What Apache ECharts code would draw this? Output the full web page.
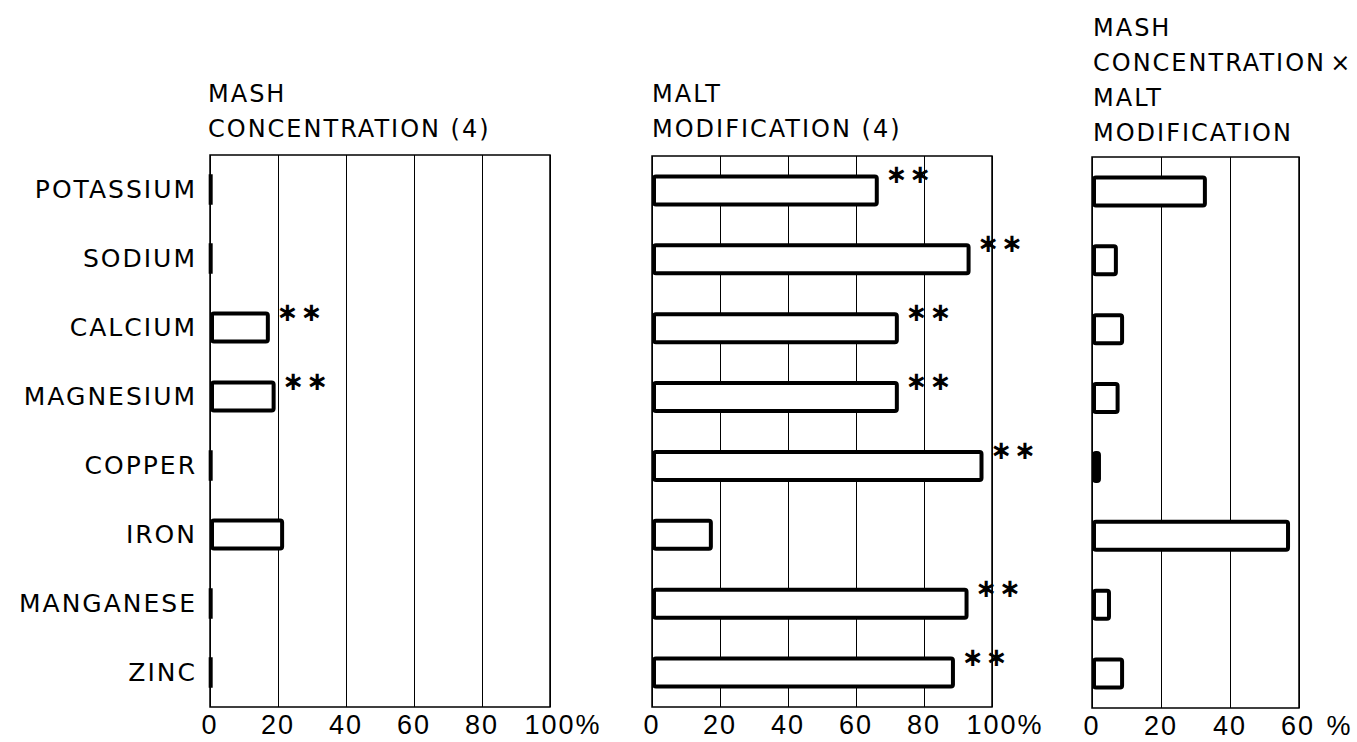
<!DOCTYPE html>
<html><head><meta charset="utf-8">
<script src="https://cdn.jsdelivr.net/npm/echarts@6/dist/echarts.min.js"></script>
<style>
html,body{margin:0;padding:0;background:#fff}
#c{width:1357px;height:742px}
#c text{letter-spacing:2px}
</style></head><body><div id="c"></div>
<script>
const categories = ['POTASSIUM','SODIUM','CALCIUM','MAGNESIUM','COPPER','IRON','MANGANESE','ZINC'];
const mashValues = [0.4,0.4,17.6,19.3,0.4,21.8,0.4,0.4];
const mashSig    = [0,0,1,1,0,0,0,0];
const maltValues = [66.7,93.7,72.6,72.6,97.5,17.9,93.1,89.1];
const maltSig    = [1,1,1,1,1,0,1,1];
const interValues = [33.3,7.5,9.3,8.0,2.6,57.4,5.5,9.3];
const interSig    = [0,0,0,0,0,0,0,0];
const interFilled = [0,0,0,0,1,0,0,0];
const mashTicksMax = 100, maltTicksMax = 100, interTicksMax = 60;
const titles = ['MASH\nCONCENTRATION (4)', 'MALT\nMODIFICATION (4)', 'MASH\nCONCENTRATION\u200a\u00d7\nMALT\nMODIFICATION'];
const suffixes = ['%', '%', ' %'];

const FONT = 'DejaVu Sans, sans-serif';
const TICKFONT = 'Liberation Sans, Arial, sans-serif';
const chart = echarts.init(document.getElementById('c'), null, {renderer: 'svg'});

const grids = [
  {left: 210, top: 155, width: 340, height: 552},
  {left: 652, top: 156, width: 340, height: 551},
  {left: 1092, top: 157, width: 207, height: 551}
];
const maxes = [mashTicksMax, maltTicksMax, interTicksMax];
const vals = [mashValues, maltValues, interValues];
const sigs = [mashSig, maltSig, interSig];
const filled = [null, null, interFilled];

const option = {
  backgroundColor: '#fff',
  animation: false,
  title: [
    {text: titles[0], left: 208, top: 76},
    {text: titles[1], left: 652, top: 76},
    {text: titles[2], left: 1093, top: 10}
  ].map(t => Object.assign(t, {padding: 0, textStyle: {fontFamily: FONT, fontSize: 24, fontWeight: 'normal', lineHeight: 35, color: '#000'}})),
  grid: grids.map(g => Object.assign({}, g, {show: true, borderColor: '#000', borderWidth: 1.5, backgroundColor: 'transparent'})),
  xAxis: maxes.map((m, i) => ({
    type: 'value', gridIndex: i, min: 0, max: m, interval: 20,
    axisLine: {show: false}, axisTick: {show: false},
    splitLine: {show: true, lineStyle: {color: '#000', width: 1}},
    axisLabel: {
      show: true, showMinLabel: true, showMaxLabel: true, margin: 4,
      color: '#000', fontFamily: TICKFONT, fontSize: 27,
      formatter: v => v === m ? '{n|' + v + '}{p|' + suffixes[i] + '}' : String(v),
      rich: {
        n: {align: 'left', fontFamily: TICKFONT, fontSize: 27, color: '#000'},
        p: {align: 'left', width: 0, fontFamily: TICKFONT, fontSize: 27, color: '#000', padding: [0, 0, 0, 6]}
      }
    }
  })),
  yAxis: maxes.map((m, i) => ({
    type: 'category', gridIndex: i, data: categories, inverse: true,
    axisLine: {show: false}, axisTick: {show: false}, splitLine: {show: false},
    axisLabel: {show: i === 0, margin: 13, color: '#000', fontFamily: FONT, fontSize: 25}
  })),
  series: vals.map((arr, i) => ({
    type: 'bar', xAxisIndex: i, yAxisIndex: i, barWidth: 32,
    itemStyle: {color: '#fff', borderColor: '#000', borderWidth: 4, borderRadius: 2},
    data: arr.map((v, j) => (filled[i] && filled[i][j]) ? {value: v, itemStyle: {color: '#000'}} : {value: v}),
    label: {
      show: true, position: 'right', distance: 7, offset: [0, -16],
      formatter: p => sigs[i][p.dataIndex] ? '\u2217\u2217' : '',
      fontFamily: 'DejaVu Sans', fontWeight: 'bold', fontSize: 26, color: '#000'
    }
  }))
};
chart.setOption(option);
</script></body></html>
